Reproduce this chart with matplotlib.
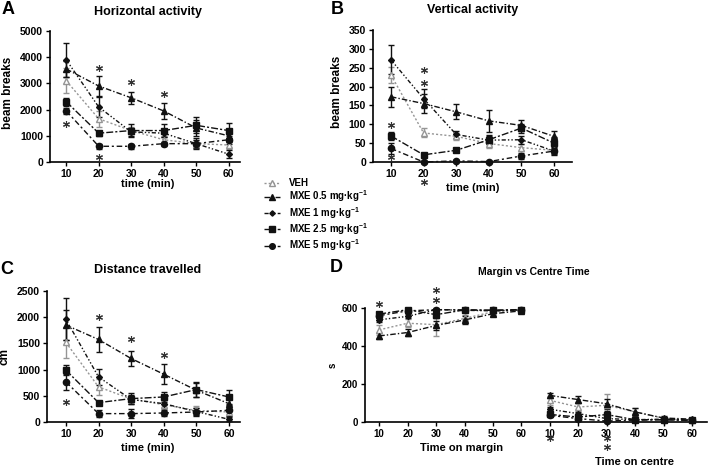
import matplotlib
matplotlib.use("Agg")
import matplotlib.pyplot as plt
from matplotlib.lines import Line2D

plt.rcParams['font.family'] = ['Liberation Sans', 'DejaVu Sans']
plt.rcParams['font.weight'] = 'bold'
plt.rcParams['mathtext.fontset'] = 'custom'
plt.rcParams['mathtext.bf'] = 'Liberation Sans:bold'
plt.rcParams['mathtext.rm'] = 'Liberation Sans:bold'

# ---- data ----
times = [10, 20, 30, 40, 50, 60]
groups = ['VEH', 'MXE 0.5 mg·kg$^{-1}$', 'MXE 1 mg·kg$^{-1}$',
          'MXE 2.5 mg·kg$^{-1}$', 'MXE 5 mg·kg$^{-1}$']

# A: horizontal activity (beam breaks)
horiz_mean = [[3100, 1650, 1200, 850, 700, 650],
              [3550, 2900, 2450, 1950, 1300, 1000],
              [3900, 2100, 1150, 1100, 700, 300],
              [2300, 1100, 1200, 1200, 1400, 1200],
              [1950, 600, 600, 700, 700, 850]]
horiz_err = [[480, 300, 150, 150, 150, 150],
             [300, 370, 220, 300, 300, 250],
             [650, 380, 150, 150, 150, 150],
             [150, 100, 250, 250, 300, 300],
             [100, 100, 100, 80, 200, 150]]
horiz_stars = [(10, 1450), (20, 3600), (20, 200), (30, 3050), (40, 2600)]

# B: vertical activity (beam breaks)
vert_mean = [[231, 77, 68, 49, 38, 31],
             [173, 155, 133, 109, 97, 68],
             [271, 168, 73, 58, 59, 29],
             [69, 19, 31, 59, 90, 50],
             [36, 0, 3, 1, 16, 29]]
vert_err = [[22, 12, 10, 12, 10, 10],
            [27, 25, 20, 30, 15, 15],
            [38, 25, 10, 10, 10, 8],
            [10, 3, 5, 12, 12, 15],
            [15, 2, 2, 1, 8, 10]]
vert_stars = [(10, 98), (10, 13), (20, 244), (20, 210), (20, -53)]

# C: distance travelled (cm)
dist_mean = [[1518, 670, 440, 330, 220, 190],
             [1850, 1575, 1212, 912, 606, 350],
             [1958, 861, 430, 350, 200, 51],
             [989, 370, 446, 478, 619, 478],
             [765, 160, 160, 172, 191, 223]]
dist_err = [[300, 150, 80, 80, 80, 80],
            [290, 240, 150, 190, 130, 120],
            [400, 150, 80, 80, 60, 40],
            [100, 40, 100, 100, 150, 140],
            [150, 60, 80, 60, 80, 100]]
dist_stars = [(10, 383), (20, 2009), (30, 1575), (40, 1276)]

# D: time on margin / centre (s)
margin_mean = [[485, 520, 512, 545, 580, 590],
               [453, 471, 508, 537, 570, 585],
               [538, 556, 592, 588, 585, 590],
               [568, 591, 565, 590, 588, 590],
               [560, 585, 591, 590, 588, 592]]
margin_err = [[25, 20, 60, 20, 8, 5],
              [15, 20, 25, 20, 10, 8],
              [10, 10, 8, 5, 5, 5],
              [10, 5, 20, 5, 5, 5],
              [10, 5, 5, 5, 5, 5]]
centre_mean = [[114, 79, 88, 53, 20, 10],
               [140, 118, 96, 53, 21, 15],
               [67, 44, 18, 12, 15, 10],
               [40, 26, 39, 12, 12, 10],
               [35, 18, 5, 10, 12, 8]]
centre_err = [[25, 20, 60, 20, 8, 5],
              [15, 20, 25, 20, 10, 8],
              [10, 10, 8, 5, 5, 5],
              [10, 5, 20, 5, 5, 5],
              [10, 5, 5, 5, 5, 5]]
margin_stars = [(10, 621), (30, 644), (30, 697)]
centre_stars = [(10, -82), (30, -82), (30, -132)]

# ---- styles ----
colors = ['#959595', '#111111', '#111111', '#111111', '#111111']
markers = ['^', '^', 'D', 's', 'o']
msizes = [4.5, 4.5, 3, 4.5, 4.5]
mfcs = ['white', '#111111', '#111111', '#111111', '#111111']
dashes = [(0, (1.5, 1.5)), (0, (4, 1.5, 1, 1.5)), (0, (3, 1.5, 1, 1.5, 1, 1.5)),
          (0, (5, 1.5, 1.5, 1.5)), (0, (4, 2, 1.5, 2))]

W, H = 709, 468
fig = plt.figure(figsize=(W / 100, H / 100), dpi=100)


def px_axes(l, t, r, b):
    return fig.add_axes([l / W, 1 - b / H, (r - l) / W, (b - t) / H])


def style(ax):
    for s in ['top', 'right']:
        ax.spines[s].set_visible(False)
    for s in ['left', 'bottom']:
        ax.spines[s].set_linewidth(1.2)
    ax.tick_params(direction='out', length=3, width=1, labelsize=7.5, pad=2)
    for lab in ax.get_xticklabels() + ax.get_yticklabels():
        lab.set_fontweight('bold')


def draw(ax, x, means, errs):
    for i in range(len(means)):
        c = ax.errorbar(x, means[i], yerr=errs[i], color=colors[i], marker=markers[i],
                        ms=msizes[i], mfc=mfcs[i], mec=colors[i], linestyle=dashes[i],
                        linewidth=1, elinewidth=1, capsize=2, capthick=1, zorder=3)
        for art in c.get_children():
            art.set_clip_on(False)


def stars(ax, pts):
    xs = [p[0] for p in pts]
    ys = [p[1] for p in pts]
    ax.plot(xs, ys, linestyle='none', marker=(6, 2, 0), ms=5, mew=0.8,
            color='#333333', clip_on=False)


def label(ax, x, y, s, size=8, rot=0):
    ax.text(x, y, s, transform=ax.transAxes, ha='center', va='center',
            fontsize=size, fontweight='bold', rotation=rot)


# A
axA = px_axes(50, 31, 240, 162)
draw(axA, times, horiz_mean, horiz_err)
stars(axA, horiz_stars)
axA.set_xlim(5, 63.5)
axA.set_ylim(0, 5000)
axA.set_xticks(times)
axA.set_yticks(range(0, 5001, 1000))
label(axA, 0.516, -0.17, 'time (min)')
label(axA, -0.221, 0.53, 'beam breaks', 8.5, 90)
label(axA, 0.516, 1.147, 'Horizontal activity', 9)
style(axA)

# B
axB = px_axes(373, 30, 572, 162)
draw(axB, times, vert_mean, vert_err)
stars(axB, vert_stars)
axB.set_xlim(4.5, 65.5)
axB.set_ylim(0, 350)
axB.set_xticks(times)
axB.set_yticks(range(0, 351, 50))
label(axB, 0.5, -0.2, 'time (min)')
label(axB, -0.181, 0.53, 'beam breaks', 8.5, 90)
label(axB, 0.5, 1.15, 'Vertical activity', 9)
style(axB)

# C
axC = px_axes(47, 291, 240, 422)
draw(axC, times, dist_mean, dist_err)
stars(axC, dist_stars)
axC.set_xlim(4.2, 63.4)
axC.set_ylim(0, 2500)
axC.set_xticks(times)
axC.set_yticks(range(0, 2501, 500))
label(axC, 0.52, -0.2, 'time (min)')
label(axC, -0.218, 0.5, 'cm', 8.5, 90)
label(axC, 0.52, 1.16, 'Distance travelled', 9)
style(axC)

# D
axD = px_axes(365, 308, 707, 422)
pos_margin = [1, 2, 3, 4, 5, 6]
pos_centre = [7, 8, 9, 10, 11, 12]
draw(axD, pos_margin, margin_mean, margin_err)
draw(axD, pos_centre, centre_mean, centre_err)
stars(axD, [(pos_margin[times.index(t)], v) for t, v in margin_stars])
stars(axD, [(pos_centre[times.index(t)], v) for t, v in centre_stars])
axD.set_xlim(0.5, 12.53)
axD.set_ylim(0, 600)
axD.set_xticks(pos_margin + pos_centre)
axD.set_xticklabels([str(t) for t in times] * 2)
axD.set_yticks([0, 200, 400, 600])
label(axD, -0.094, 0.5, 's', 7, 90)
label(axD, 0.281, -0.23, 'Time on margin')
label(axD, 0.789, -0.35, 'Time on centre')
label(axD, 0.494, 1.316, 'Margin vs Centre Time', 7.5)
style(axD)
axD.tick_params(labelsize=7)

# panel letters
for letter, (x, y) in zip('ABCD', [(8, 9), (337, 9), (7, 269), (336, 268)]):
    fig.text(x / W, 1 - y / H, letter, fontsize=13, fontweight='bold',
             ha='center', va='center')

# legend
handles = [Line2D([], [], color=colors[i], marker=markers[i], ms=msizes[i] * 0.9,
                  mfc=mfcs[i], mec=colors[i], linestyle=dashes[i], linewidth=1)
           for i in range(len(groups))]
fig.legend(handles, groups, loc='upper left', bbox_to_anchor=(264 / W, 1 - 178 / H),
           frameon=False, handlelength=1.6, handletextpad=1.0,
           labelspacing=0.05, borderpad=0, borderaxespad=0,
           prop={'weight': 'bold', 'size': 7})

fig.savefig('out.png', dpi=100)
